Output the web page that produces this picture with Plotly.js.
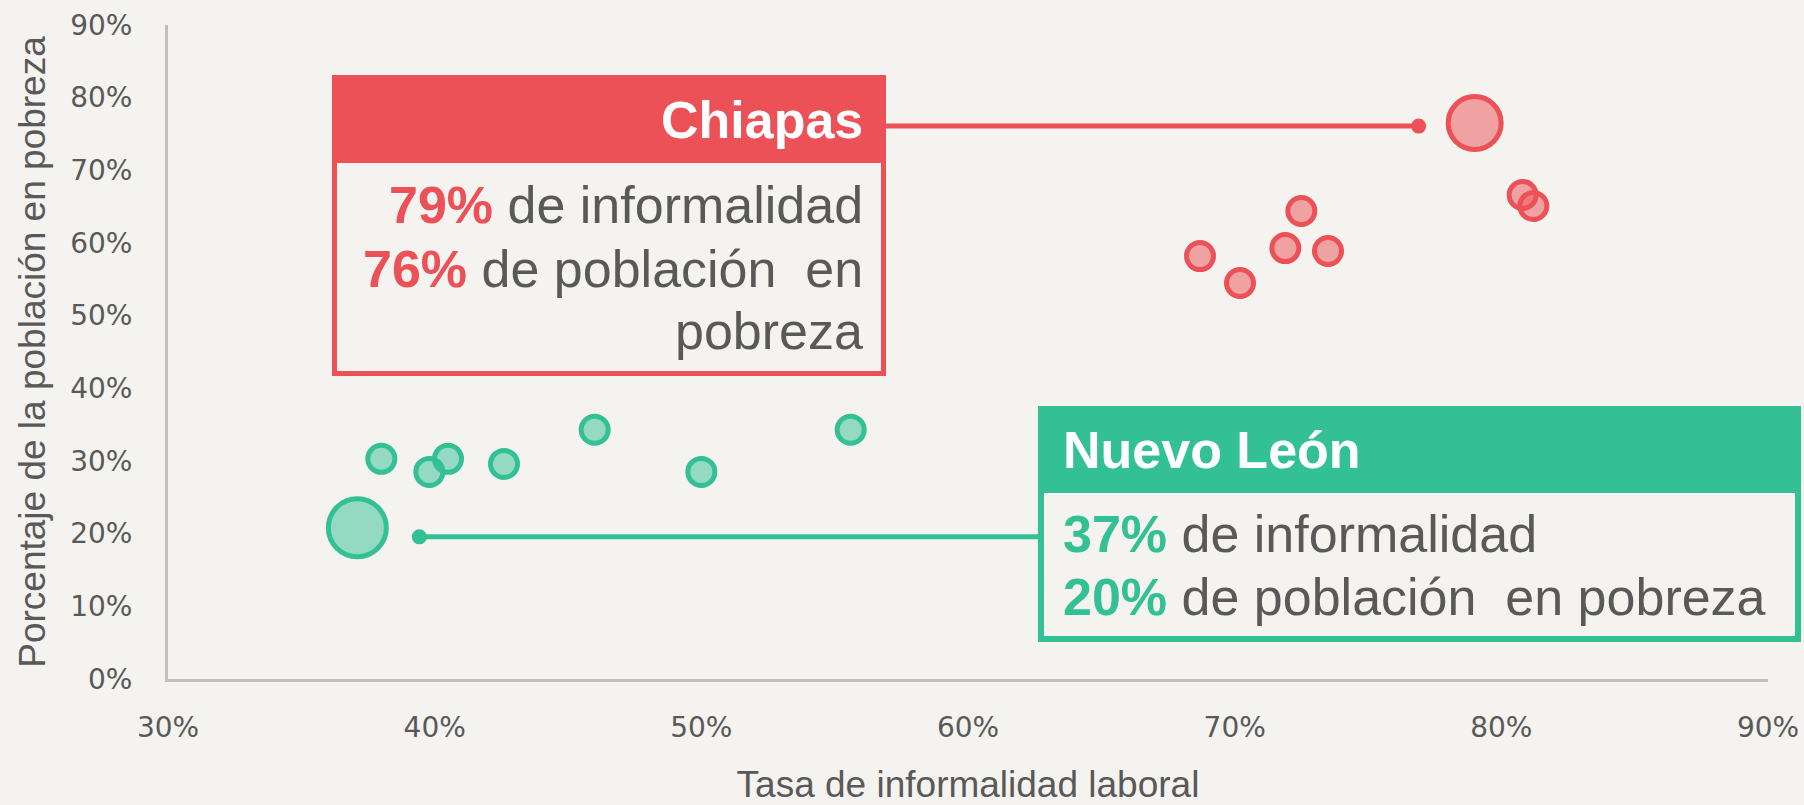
<!DOCTYPE html>
<html>
<head>
<meta charset="utf-8">
<script src="https://cdn.plot.ly/plotly-3.0.1.min.js"></script>
<style>
  html, body { margin: 0; padding: 0; background: #F4F3EF; }
  #chart { width: 1804px; height: 805px; }
</style>
</head>
<body>
<div id="chart"></div>
<script>
// ---------- DATA ----------
// Other high-informality states (red group)
const southX = [80.8, 81.2, 72.5, 71.9, 73.5, 68.7, 70.2];
const southY = [66.6, 65.1, 64.4, 59.3, 58.9, 58.2, 54.5];
// Other low-informality states (green group)
const northX = [38.0, 39.8, 40.5, 42.6, 46.0, 50.0, 55.6];
const northY = [30.3, 28.5, 30.3, 29.6, 34.3, 28.5, 34.3];
// Highlighted states
const chiapasX = [79.0];
const chiapasY = [76.5];
const nuevoLeonX = [37.1];
const nuevoLeonY = [20.8];

const xTickVals = [30, 40, 50, 60, 70, 80, 90];
const yTickVals = [0, 10, 20, 30, 40, 50, 60, 70, 80, 90];
const xTickText = ['30%', '40%', '50%', '60%', '70%', '80%', '90%'];
const yTickText = ['0%', '10%', '20%', '30%', '40%', '50%', '60%', '70%', '80%', '90%'];

const xTitle = 'Tasa de informalidad laboral';
const yTitle = 'Porcentaje de la población en pobreza';

const chiapasName = 'Chiapas';
const chiapasLines = ['79%|de informalidad', '76%|de población  en', '|pobreza'];
const nlName = 'Nuevo León';
const nlLines = ['37%|de informalidad', '20%|de población  en pobreza'];

// ---------- STYLE ----------
const RED = '#EB5157';
const RED_FILL = 'rgba(235,81,87,0.5)';
const GREEN = '#33C095';
const GREEN_FILL = 'rgba(51,192,149,0.5)';
const BG = '#F4F3EF';
const GRAY = '#595959';
const AXIS = '#C0C0C0';

const W = 1804, H = 805;
const M = {l: 168, r: 36, t: 25, b: 126};
const plotW = W - M.l - M.r, plotH = H - M.t - M.b;
const px = p => (p - M.l) / plotW;
const py = p => (H - M.b - p) / plotH;

function bubble(x, y, color, fill, size) {
  return {
    type: 'scatter', mode: 'markers', x: x, y: y,
    marker: {size: size, color: fill, line: {color: color, width: 5}},
    hoverinfo: 'skip', cliponaxis: false
  };
}

const traces = [
  bubble(southX, southY, RED, RED_FILL, 27),
  bubble(northX, northY, GREEN, GREEN_FILL, 27),
  bubble(chiapasX, chiapasY, RED, RED_FILL, 53),
  bubble(nuevoLeonX, nuevoLeonY, GREEN, GREEN_FILL, 58)
];

function rectShape(x0, y0, x1, y1, lineColor, lineW, fill) {
  return {type: 'rect', xref: 'paper', yref: 'paper', layer: 'above',
    x0: px(x0), x1: px(x1), y0: py(y1), y1: py(y0),
    line: {color: lineColor, width: lineW}, fillcolor: fill};
}
// connector anchored on a data point with pixel offsets
function connector(ax, ay, dx0, dx1, dy, color) {
  return [
    {type: 'line', xref: 'x', yref: 'y', xsizemode: 'pixel', ysizemode: 'pixel',
      xanchor: ax, yanchor: ay, x0: dx0, x1: dx1, y0: dy, y1: dy, layer: 'above',
      line: {color: color, width: 5}},
    {type: 'circle', xref: 'x', yref: 'y', xsizemode: 'pixel', ysizemode: 'pixel',
      xanchor: ax, yanchor: ay, x0: dx1 - 7.5, x1: dx1 + 7.5, y0: dy - 7.5, y1: dy + 7.5,
      layer: 'above', line: {width: 0}, fillcolor: color}
  ];
}

const shapes = [].concat(
  connector(chiapasX[0], chiapasY[0], -589, -56, -3, RED),
  connector(nuevoLeonX[0], nuevoLeonY[0], 681, 62, -9, GREEN),
  [
    rectShape(334.5, 77.5, 883.5, 373.5, RED, 5, 'rgba(0,0,0,0)'),
    rectShape(332, 75, 886, 163, RED, 0, RED),
    rectShape(1041, 409, 1798, 639, GREEN, 6, 'rgba(0,0,0,0)'),
    rectShape(1038, 406, 1801, 493, GREEN, 0, GREEN)
  ]
);

function lineText(s, color) {
  const parts = s.split('|');
  let out = '';
  if (parts[0]) out += '<b><span style="color:' + color + '">' + parts[0] + '</span></b> ';
  out += parts[1];
  return out;
}
function ann(text, x, y, anchor, color, bold) {
  return {xref: 'paper', yref: 'paper', x: px(x), y: py(y), xanchor: anchor, yanchor: 'middle',
    text: bold ? '<b>' + text + '</b>' : text, showarrow: false, align: anchor,
    font: {family: 'Liberation Sans, Arial, sans-serif', size: 52, color: color}};
}

const annotations = [
  ann(chiapasName, 865, 120, 'right', '#FFFFFF', true),
  ann(lineText(chiapasLines[0], RED), 865, 204.5, 'right', GRAY, false),
  ann(lineText(chiapasLines[1], RED), 865, 268.5, 'right', GRAY, false),
  ann(lineText(chiapasLines[2], RED), 865, 331, 'right', GRAY, false),
  ann(nlName, 1061, 450, 'left', '#FFFFFF', true),
  ann(lineText(nlLines[0], GREEN), 1061, 534, 'left', GRAY, false),
  ann(lineText(nlLines[1], GREEN), 1061, 597, 'left', GRAY, false)
];

const tickFont = {family: 'DejaVu Sans, sans-serif', size: 28, color: GRAY};
const titleFont = {family: 'Liberation Sans, Arial, sans-serif', size: 37, color: GRAY};

const layout = {
  width: W, height: H,
  margin: M,
  paper_bgcolor: BG, plot_bgcolor: BG,
  showlegend: false, hovermode: false,
  xaxis: {
    range: [30, 90], tickvals: xTickVals, ticktext: xTickText,
    showgrid: false, zeroline: false, showline: true, linecolor: AXIS, linewidth: 3,
    ticks: 'outside', ticklen: 21, tickcolor: 'rgba(0,0,0,0)',
    tickfont: tickFont,
    title: {text: xTitle, font: titleFont, standoff: 40}
  },
  yaxis: {
    range: [0, 90], tickvals: yTickVals, ticktext: yTickText,
    showgrid: false, zeroline: false, showline: true, linecolor: AXIS, linewidth: 3,
    ticks: 'outside', ticklen: 27, tickcolor: 'rgba(0,0,0,0)',
    tickfont: tickFont,
    title: {text: yTitle, font: titleFont, standoff: 14}
  },
  shapes: shapes,
  annotations: annotations
};

Plotly.newPlot('chart', traces, layout, {displayModeBar: false, staticPlot: true});
</script>
</body>
</html>
